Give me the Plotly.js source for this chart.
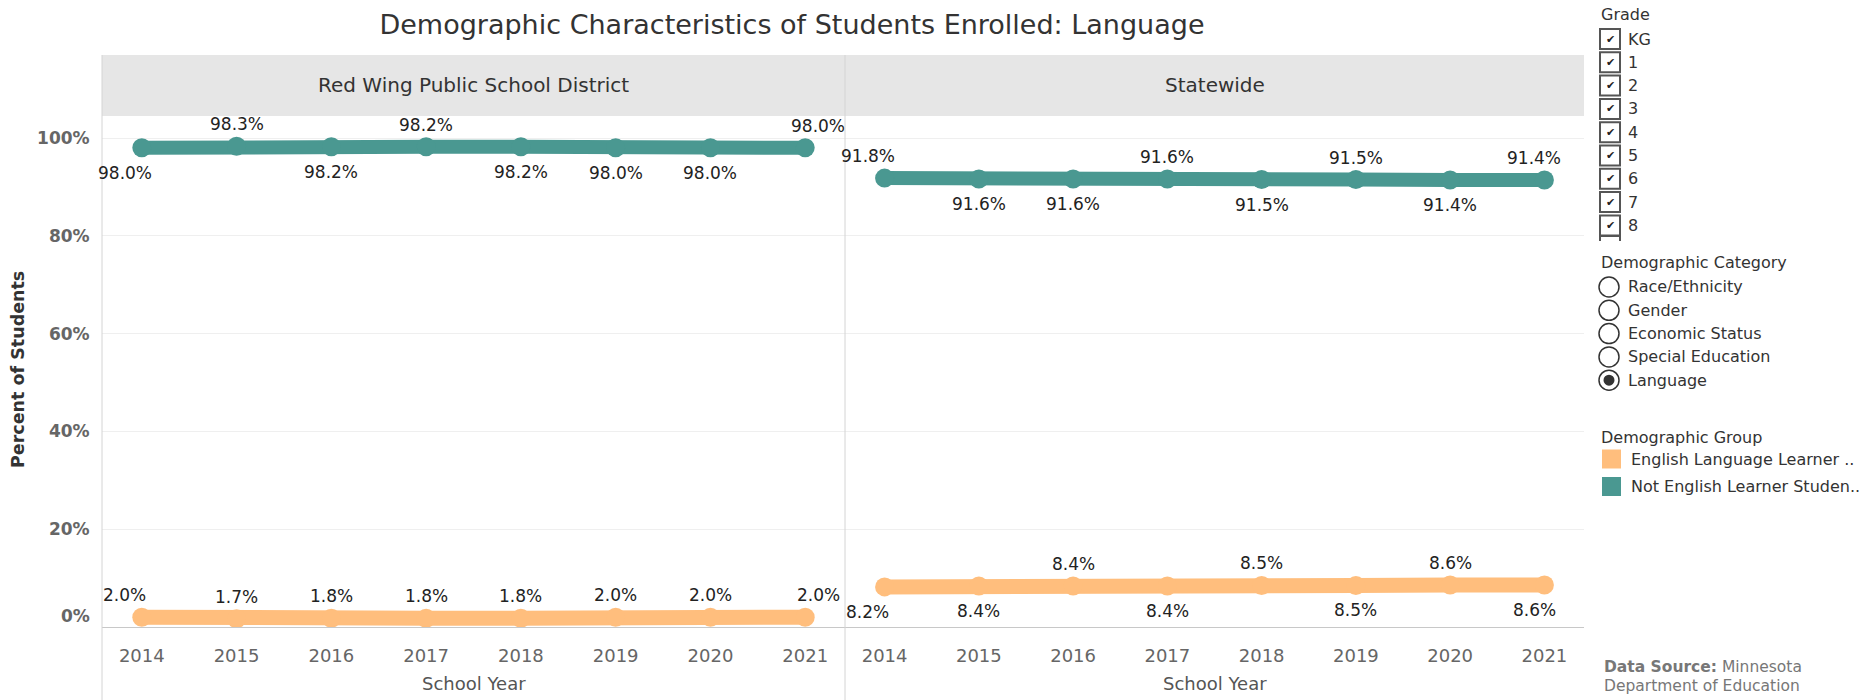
<!DOCTYPE html>
<html><head><meta charset="utf-8">
<script src="https://cdn.plot.ly/plotly-3.0.1.min.js"></script>
<style>html,body{margin:0;padding:0;background:#fff;}</style>
</head><body><div id="chart" style="width:1868px;height:700px;"></div>
<script>
// ---- data ----
const years = [2014, 2015, 2016, 2017, 2018, 2019, 2020, 2021];
const districtNotEL = [98.0, 98.3, 98.2, 98.2, 98.2, 98.0, 98.0, 98.0];
const districtEL    = [2.0, 1.7, 1.8, 1.8, 1.8, 2.0, 2.0, 2.0];
const stateNotEL    = [91.8, 91.6, 91.6, 91.6, 91.5, 91.5, 91.4, 91.4];
const stateEL       = [8.2, 8.4, 8.4, 8.4, 8.5, 8.5, 8.6, 8.6];
const panels = ['Red Wing Public School District', 'Statewide'];
const yTickVals = [20, 40, 60, 80, 100];
const yTickText = ['20%', '40%', '60%', '80%', '100%'];
const grades = ['KG', '1', '2', '3', '4', '5', '6', '7', '8'];
const categories = ['Race/Ethnicity', 'Gender', 'Economic Status', 'Special Education', 'Language'];
const selectedCategory = 'Language';
const groups = ['English Language Learner ..', 'Not English Learner Studen..'];

// label placement (style): 'a' above, 'b' below
const posDistrictNotEL = ['b','a','b','a','b','b','b','a'];
const posDistrictEL    = ['a','a','a','a','a','a','a','a'];
const posStateNotEL    = ['a','b','b','a','b','a','b','a'];
const posStateEL       = ['b','b','a','b','a','b','a','b'];

const TEAL = '#4a9891', ORANGE = '#ffbe7d';
const W = 1868, H = 700;
const px = x => x / W, py = y => 1 - y / H;
const FONT = 'DejaVu Sans, Noto Sans, sans-serif';
const XR = [2013.58, 2021.42];

function lineTrace(vals, color, xa, ya, w, m) {
  return {
    x: years, y: vals, xaxis: xa, yaxis: ya, type: 'scatter', mode: 'lines+markers',
    line: {color: color, width: w}, marker: {color: color, size: m},
    showlegend: false, hoverinfo: 'x+y'
  };
}
const traces = [
  lineTrace(districtEL, ORANGE, 'x', 'y', 15, 19),
  lineTrace(districtNotEL, TEAL, 'x', 'y', 14, 19),
  lineTrace(stateEL, ORANGE, 'x2', 'y2', 15, 19),
  lineTrace(stateNotEL, TEAL, 'x2', 'y2', 14, 19)
];

const annotations = [];
function labels(vals, pos, xref, yref, panelIdx) {
  vals.forEach((v, i) => {
    let xs = 0;
    if (i === 0) xs = -17;
    if (i === vals.length - 1) xs = panelIdx === 0 ? 13 : -10;
    annotations.push({
      x: years[i], y: v, xref: xref, yref: yref, text: v.toFixed(1) + '%',
      showarrow: false, xanchor: 'center', yanchor: 'middle',
      yshift: pos[i] === 'a' ? 22 : -25, xshift: xs,
      font: {family: FONT, size: 17, color: '#222'}
    });
  });
}
labels(districtNotEL, posDistrictNotEL, 'x', 'y', 0);
labels(districtEL, posDistrictEL, 'x', 'y', 0);
labels(stateNotEL, posStateNotEL, 'x2', 'y2', 1);
labels(stateEL, posStateEL, 'x2', 'y2', 1);

// zero tick label (drawn slightly above axis like the source)
annotations.push({x: px(92), y: 0, xref: 'paper', yref: 'y', text: '<b>0%</b>', showarrow: false,
  xanchor: 'right', yanchor: 'middle', yshift: 11, font: {family: FONT, size: 17, color: '#666'}});

// panel headers
panels.forEach((p, i) => {
  const cx = i === 0 ? (102 + 845) / 2 : (845 + 1584) / 2;
  annotations.push({x: px(cx), y: py(85), xref: 'paper', yref: 'paper', text: p, showarrow: false,
    xanchor: 'center', yanchor: 'middle', font: {family: FONT, size: 20, color: '#333'}});
  annotations.push({x: px(cx), y: py(683), xref: 'paper', yref: 'paper', text: 'School Year', showarrow: false,
    xanchor: 'center', yanchor: 'middle', font: {family: FONT, size: 18, color: '#555'}});
});
// y title
annotations.push({x: px(18), y: py(370), xref: 'paper', yref: 'paper', text: '<b>Percent of Students</b>',
  showarrow: false, textangle: -90, xanchor: 'center', yanchor: 'middle',
  font: {family: FONT, size: 17.5, color: '#333'}});

const shapes = [
  {type: 'rect', xref: 'paper', yref: 'paper', x0: px(102), x1: px(1584), y0: py(116), y1: py(55),
   fillcolor: '#e6e6e6', line: {width: 0}, layer: 'below'},
  {type: 'line', xref: 'paper', yref: 'paper', x0: px(102), x1: px(102), y0: py(55), y1: py(700),
   line: {color: '#d4d4d4', width: 1}},
  {type: 'line', xref: 'paper', yref: 'paper', x0: px(845), x1: px(845), y0: py(55), y1: py(700),
   line: {color: '#d4d4d4', width: 1}}
];

// ---- side legend / filters ----
const LF = {family: FONT, size: 16, color: '#333'};
annotations.push({x: px(1599), y: py(14), xref: 'paper', yref: 'paper', text: 'Grade', showarrow: false,
  xanchor: 'left', yanchor: 'middle', font: LF});
grades.forEach((g, i) => {
  const cy = 39 + 23.3 * i;
  shapes.push({type: 'rect', xref: 'paper', yref: 'paper', x0: px(1600), x1: px(1620), y0: py(cy + 10), y1: py(cy - 10),
    line: {color: '#555', width: 2}, fillcolor: '#fff'});
  annotations.push({x: px(1610), y: py(cy), xref: 'paper', yref: 'paper', text: '✔', showarrow: false,
    xanchor: 'center', yanchor: 'middle', font: {family: FONT, size: 11, color: '#222'}});
  annotations.push({x: px(1626), y: py(cy), xref: 'paper', yref: 'paper', text: g, showarrow: false,
    xanchor: 'left', yanchor: 'middle', font: LF});
});
// clipped next checkbox
shapes.push({type: 'path', xref: 'paper', yref: 'paper',
  path: `M ${px(1600)} ${py(241)} L ${px(1600)} ${py(236)} L ${px(1620)} ${py(236)} L ${px(1620)} ${py(241)}`,
  line: {color: '#555', width: 2}});

annotations.push({x: px(1599), y: py(263), xref: 'paper', yref: 'paper', text: 'Demographic Category', showarrow: false,
  xanchor: 'left', yanchor: 'middle', font: LF});
categories.forEach((c, i) => {
  const cy = 287 + 23.3 * i;
  shapes.push({type: 'circle', xref: 'paper', yref: 'paper', x0: px(1599), x1: px(1619), y0: py(cy + 10), y1: py(cy - 10),
    line: {color: '#333', width: 1.5}, fillcolor: '#fff'});
  if (c === selectedCategory) {
    shapes.push({type: 'circle', xref: 'paper', yref: 'paper', x0: px(1603.5), x1: px(1614.5), y0: py(cy + 5.5), y1: py(cy - 5.5),
      line: {width: 0}, fillcolor: '#333'});
  }
  annotations.push({x: px(1626), y: py(cy), xref: 'paper', yref: 'paper', text: c, showarrow: false,
    xanchor: 'left', yanchor: 'middle', font: LF});
});

annotations.push({x: px(1599), y: py(437), xref: 'paper', yref: 'paper', text: 'Demographic Group', showarrow: false,
  xanchor: 'left', yanchor: 'middle', font: LF});
[ORANGE, TEAL].forEach((col, i) => {
  const cy = 459 + 27.5 * i;
  shapes.push({type: 'rect', xref: 'paper', yref: 'paper', x0: px(1602), x1: px(1621), y0: py(cy + 9.5), y1: py(cy - 9.5),
    line: {width: 0}, fillcolor: col});
  annotations.push({x: px(1629), y: py(cy), xref: 'paper', yref: 'paper', text: groups[i], showarrow: false,
    xanchor: 'left', yanchor: 'middle', font: LF});
});

annotations.push({x: px(1602), y: py(667), xref: 'paper', yref: 'paper', text: '<b>Data Source:</b> Minnesota',
  showarrow: false, xanchor: 'left', yanchor: 'middle', font: {family: FONT, size: 15.5, color: '#777'}});
annotations.push({x: px(1602), y: py(686), xref: 'paper', yref: 'paper', text: 'Department of Education',
  showarrow: false, xanchor: 'left', yanchor: 'middle', font: {family: FONT, size: 15.5, color: '#777'}});

const xCommon = {
  range: XR, tickmode: 'array', tickvals: years, ticktext: years.map(String),
  showgrid: false, zeroline: false, showline: true, linecolor: '#c8c8c8', linewidth: 1,
  ticks: 'outside', ticklen: 12, tickcolor: 'rgba(0,0,0,0)',
  tickfont: {family: FONT, size: 18, color: '#666'}, fixedrange: true
};
const yCommon = {
  range: [0, 104.5], tickmode: 'array', tickvals: yTickVals, ticktext: yTickText,
  showgrid: true, gridcolor: '#efefef', gridwidth: 1, zeroline: false, showline: false,
  ticks: 'outside', ticklen: 8, tickcolor: 'rgba(0,0,0,0)',
  tickfont: {family: FONT, size: 17, color: '#666', weight: 'bold'},
  domain: [py(627), py(116)], fixedrange: true
};

const layout = {
  width: W, height: H, margin: {l: 0, r: 0, t: 0, b: 0},
  paper_bgcolor: '#fff', plot_bgcolor: '#fff',
  title: {text: 'Demographic Characteristics of Students Enrolled: Language',
    x: px(792), xanchor: 'center', y: py(25), yanchor: 'middle', xref: 'paper', yref: 'paper',
    font: {family: FONT, size: 27, color: '#333'}},
  xaxis: Object.assign({}, xCommon, {domain: [px(102), px(845)], anchor: 'y'}),
  xaxis2: Object.assign({}, xCommon, {domain: [px(845), px(1584)], anchor: 'y2'}),
  yaxis: Object.assign({}, yCommon, {anchor: 'x'}),
  yaxis2: Object.assign({}, yCommon, {anchor: 'x2', showticklabels: false}),
  shapes: shapes, annotations: annotations, showlegend: false
};

Plotly.newPlot('chart', traces, layout, {displayModeBar: false, staticPlot: true});
</script>
</body></html>
